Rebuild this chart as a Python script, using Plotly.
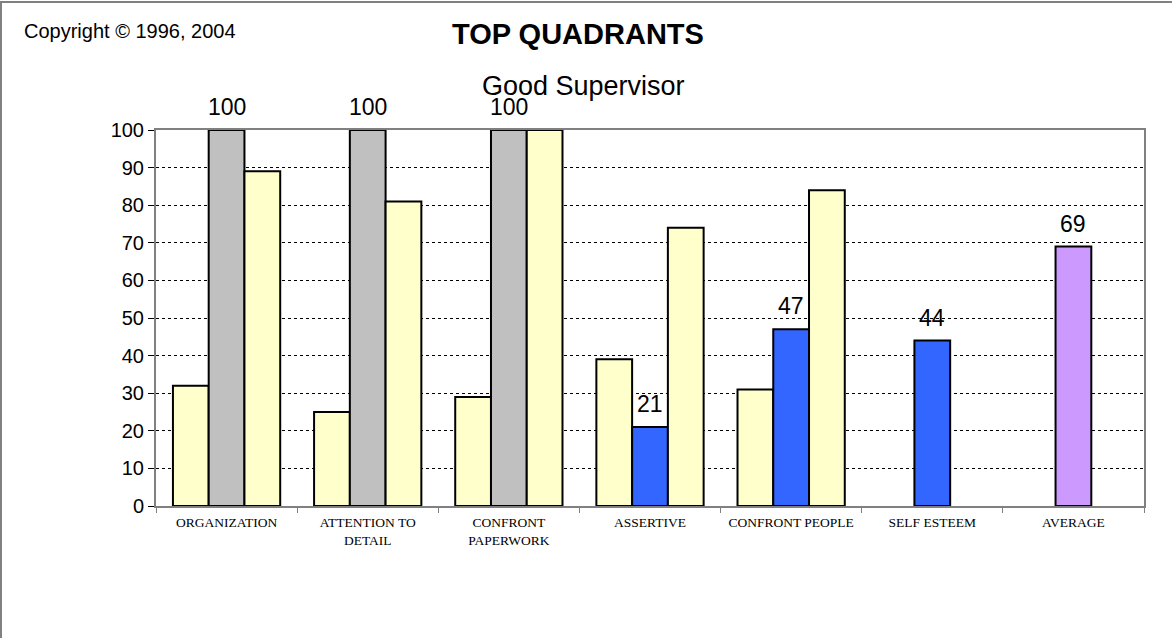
import plotly.graph_objects as go

# Category labels along the x axis
CATEGORIES = [
    "ORGANIZATION",
    "ATTENTION TO<br>DETAIL",
    "CONFRONT<br>PAPERWORK",
    "ASSERTIVE",
    "CONFRONT PEOPLE",
    "SELF ESTEEM",
    "AVERAGE",
]

# Three bars per category (left / middle / right); None = no bar
LEFT_VALUES = [32, 25, 29, 39, 31, None, None]
MIDDLE_VALUES = [100, 100, 100, 21, 47, 44, 69]
RIGHT_VALUES = [89, 81, 100, 74, 84, None, None]

# Middle bar colour per category
MIDDLE_COLORS = ["#C0C0C0", "#C0C0C0", "#C0C0C0", "#3366FF", "#3366FF", "#3366FF", "#CC99FF"]

Y_TICKS = list(range(0, 101, 10))

PALE_YELLOW = "#FFFFCC"
FRAME_GRAY = "#808080"

bar_line = dict(color="black", width=2)

fig = go.Figure()
fig.add_trace(go.Bar(x=CATEGORIES, y=LEFT_VALUES, marker=dict(color=PALE_YELLOW, line=bar_line), name="left"))
fig.add_trace(go.Bar(x=CATEGORIES, y=MIDDLE_VALUES, marker=dict(color=MIDDLE_COLORS, line=bar_line), name="middle"))
fig.add_trace(go.Bar(x=CATEGORIES, y=RIGHT_VALUES, marker=dict(color=PALE_YELLOW, line=bar_line), name="right"))

# value labels above the middle bars
for cat, val in zip(CATEGORIES, MIDDLE_VALUES):
    fig.add_annotation(
        x=cat, y=val, text=str(val), showarrow=False,
        yanchor="bottom", yshift=8,
        font=dict(family="Arial, Liberation Sans", size=23, color="black"),
    )

fig.add_annotation(
    x=0.427, y=1.255, xref="paper", yref="paper", text="<b>TOP QUADRANTS</b>",
    yanchor="middle", showarrow=False,
    font=dict(family="Arial, Liberation Sans", size=29, color="black"),
)
fig.add_annotation(
    x=0.433, y=1.118, xref="paper", yref="paper", text="Good Supervisor",
    yanchor="middle", showarrow=False,
    font=dict(family="Arial, Liberation Sans", size=27, color="black"),
)
fig.add_annotation(
    x=-0.1356, y=1.263, xref="paper", yref="paper", text="Copyright © 1996, 2004",
    xanchor="left", yanchor="middle", showarrow=False,
    font=dict(family="Arial, Liberation Sans", size=20, color="black"),
)

# outer frame of the picture (top and left edges visible)
fig.add_shape(
    type="rect", xref="paper", yref="paper",
    x0=-0.1569, x1=1.2, y0=-0.6, y1=1.3404,
    line=dict(color=FRAME_GRAY, width=2),
)

fig.update_layout(
    barmode="group",
    bargap=0.24,
    bargroupgap=0,
    showlegend=False,
    width=1172,
    height=638,
    margin=dict(l=156, r=28, t=130, b=132),
    paper_bgcolor="white",
    plot_bgcolor="white",
    font=dict(family="Arial, Liberation Sans", color="black"),
)
fig.update_xaxes(
    type="category",
    tickson="boundaries",
    ticks="outside",
    ticklen=5,
    tickcolor=FRAME_GRAY,
    showline=True,
    linecolor=FRAME_GRAY,
    linewidth=2,
    mirror=True,
    showgrid=False,
    ticklabelstandoff=3,
    tickfont=dict(family="Times New Roman, Liberation Serif", size=13.5, color="black"),
)
fig.update_yaxes(
    range=[0, 100],
    tickvals=Y_TICKS,
    ticks="outside",
    ticklen=6,
    tickcolor="black",
    showline=True,
    linecolor=FRAME_GRAY,
    linewidth=2,
    mirror=True,
    showgrid=True,
    gridcolor="black",
    griddash="dot",
    gridwidth=1,
    zeroline=False,
    tickfont=dict(family="Arial, Liberation Sans", size=20, color="black"),
)

# drop the default page margin so the figure sits at the window's corner
fig.write_html(
    "out.html",
    config={"displayModeBar": False},
    post_script="document.body.style.margin='0';",
)
